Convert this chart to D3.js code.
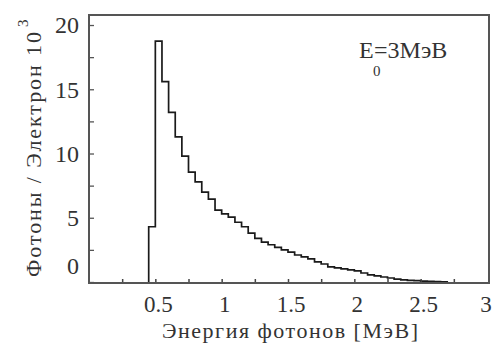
<!DOCTYPE html>
<html>
<head>
<meta charset="utf-8">
<script src="https://cdn.jsdelivr.net/npm/d3@7"></script>
<style>
  body { margin: 0; background: #fff; }
</style>
</head>
<body>
<div class="layout"></div>
<script>

// bin edges of the histogram [MeV]
var binEdges = [0.45, 0.50, 0.55, 0.60, 0.65, 0.70, 0.75, 0.80, 0.85, 0.90,
  0.95, 1.00, 1.05, 1.10, 1.15, 1.20, 1.25, 1.30, 1.35, 1.40,
  1.45, 1.50, 1.55, 1.60, 1.65, 1.70, 1.75, 1.80, 1.85, 1.90,
  1.95, 2.00, 2.05, 2.10, 2.15, 2.20, 2.25, 2.30, 2.35, 2.40,
  2.45, 2.50, 2.55, 2.60, 2.65, 2.70]

// photons per electron (x 10^3) in every bin
var photons = [4.3, 18.75, 15.6, 13.2, 11.3, 9.8, 8.55, 7.8, 7.0, 6.45,
  5.6, 5.3, 5.05, 4.65, 4.3, 3.8, 3.4, 3.1, 2.9, 2.7,
  2.5, 2.33, 2.1, 1.95, 1.8, 1.56, 1.4, 1.18, 1.1, 1.02,
  0.94, 0.86, 0.7, 0.55, 0.47, 0.39, 0.31, 0.22, 0.16, 0.13,
  0.1, 0.07, 0.05, 0.03, 0.01]

var xTicks = [0.5, 1, 1.5, 2, 2.5, 3]
var xMinorTicks = [0.25, 0.5, 0.75, 1, 1.25, 1.5, 1.75, 2, 2.25, 2.5, 2.75]
var yTicks = [0, 5, 10, 15, 20]
var yMinorTicks = [2.5, 7.5, 12.5, 17.5]

var width = 492
var height = 345
var serif = "'Liberation Serif', 'Times New Roman', Tinos, 'DejaVu Serif', serif"

var svg = d3.select("div.layout")
  .append("svg")
    .attr("width", width)
    .attr("height", height)
    .attr("font-family", serif)

const x = d3.scaleLinear()
  .domain([0, 3])
  .range([89, 487])

const y = d3.scaleLinear()
  .domain([0, 20.78])
  .range([282, 15])

// histogram outline points
var points = [[binEdges[0], 0]]
photons.forEach(function (v, i) {
  points.push([binEdges[i], v])
})
points.push([binEdges[binEdges.length - 1], photons[photons.length - 1]])
points.push([binEdges[binEdges.length - 1], 0])

const line = d3.line()
  .x(function (d) { return x(d[0]) })
  .y(function (d) { return y(d[1]) })
  .curve(d3.curveStepAfter)

svg.append("path")
  .datum(points)
  .attr("d", line)
  .attr("fill", "none")
  .attr("stroke", "#1a1a1a")
  .attr("stroke-width", 1.7)

// bottom axis, ticks pointing inward
var xAxis = svg.append("g")
  .attr("class", "xAxis")
  .attr("transform", "translate(0, 283)")
  .call(d3.axisBottom(x).tickValues(xMinorTicks).tickSize(-4).tickFormat(""))
xAxis.select(".domain").remove()
xAxis.selectAll("line").attr("stroke", "#444").attr("stroke-width", 1.5)

svg.append("g")
  .selectAll("text")
  .data(xTicks)
  .enter()
  .append("text")
  .attr("x", function (d) { return d === 3 ? x(d) - 1 : x(d) + 3 })
  .attr("y", 312)
  .attr("text-anchor", "middle")
  .attr("font-family", serif)
  .attr("fill", "#333")
  .style("font-size", "23px")
  .text(function (d) { return d })

// left axis, ticks pointing inward
var yAxis = svg.append("g")
  .attr("class", "yAxis")
  .attr("transform", "translate(89, 0)")
  .call(d3.axisLeft(y).tickValues(yTicks.concat(yMinorTicks)).tickSize(-5).tickFormat(""))
yAxis.select(".domain").remove()
yAxis.selectAll("line").attr("stroke", "#555").attr("stroke-width", 1.3)

svg.append("g")
  .selectAll("text")
  .data(yTicks)
  .enter()
  .append("text")
  .attr("x", 79)
  .attr("y", function (d) {
    // the zero label sits above the baseline in the original
    return d === 0 ? y(d) - 16 : y(d)
  })
  .attr("dy", "0.35em")
  .attr("text-anchor", "end")
  .attr("font-family", serif)
  .attr("fill", "#333")
  .style("font-size", "24px")
  .text(function (d) { return d })

// frame
svg.append("rect")
  .attr("x", x(0))
  .attr("y", y(20.78))
  .attr("width", x(3) + 2 - x(0))
  .attr("height", y(0) + 1 - y(20.78))
  .attr("fill", "none")
  .attr("stroke", "#555")
  .attr("stroke-width", 2)

// label E0 = 3 MeV
var label = svg.append("g")
  .attr("font-family", serif)
  .attr("fill", "#333")
label.append("text").attr("x", 359).attr("y", 58).style("font-size", "24px").text("E")
label.append("text").attr("x", 373).attr("y", 76).style("font-size", "15px").text("0")
label.append("text").attr("x", 374).attr("y", 58).style("font-size", "24px").text("=3МэВ")

// axis titles
svg.append("text")
  .attr("x", 162)
  .attr("y", 338)
  .attr("textLength", 256)
  .attr("lengthAdjust", "spacing")
  .attr("font-family", serif)
  .attr("fill", "#333")
  .style("font-size", "22px")
  .text("Энергия фотонов [МэВ]")

svg.append("text")
  .attr("transform", "translate(41, 277) rotate(-90)")
  .attr("textLength", 245)
  .attr("lengthAdjust", "spacing")
  .attr("font-family", serif)
  .attr("fill", "#333")
  .style("font-size", "22px")
  .text("Фотоны / Электрон 10")

svg.append("text")
  .attr("transform", "translate(28, 27) rotate(-90)")
  .attr("font-family", serif)
  .attr("fill", "#333")
  .style("font-size", "15px")
  .text("3")

</script>
</body>
</html>
